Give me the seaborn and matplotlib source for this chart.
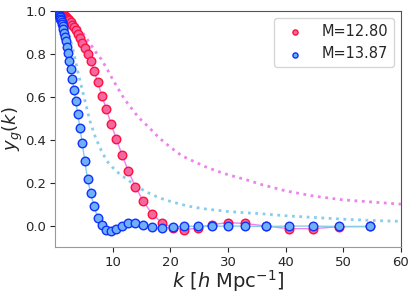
import matplotlib
matplotlib.use("Agg")
import matplotlib.pyplot as plt
import seaborn as sns

# k grid shared by both halo-mass bins
k = [0.62, 0.68, 0.75, 0.83, 0.91, 1.00, 1.10, 1.20, 1.32, 1.44, 1.58, 1.73, 1.89,
     2.07, 2.27, 2.48, 2.72, 2.98, 3.26, 3.57, 3.91, 4.28, 4.69, 5.14, 5.63, 6.17,
     6.75, 7.39, 8.09, 8.85, 9.68, 10.6, 11.6, 12.7, 13.9, 15.3, 16.8, 18.5, 20.4,
     22.4, 24.7, 27.2, 30.0, 33.0, 36.6, 40.5, 44.7, 49.3, 54.7]

# M=12.80
y_low = [0.999, 0.998, 0.997, 0.996, 0.995, 0.993, 0.992, 0.990, 0.988, 0.985,
         0.982, 0.978, 0.974, 0.969, 0.963, 0.956, 0.947, 0.936, 0.924, 0.910,
         0.893, 0.875, 0.853, 0.828, 0.800, 0.765, 0.722, 0.668, 0.605, 0.545,
         0.475, 0.405, 0.330, 0.255, 0.182, 0.113, 0.055, 0.014, -0.010, -0.018,
         -0.012, 0.005, 0.014, 0.010, -0.002, -0.014, -0.014, -0.005, -0.004]

# M=13.87
y_high = [0.984, 0.980, 0.976, 0.971, 0.965, 0.958, 0.950, 0.940, 0.928, 0.915,
          0.898, 0.880, 0.858, 0.832, 0.802, 0.768, 0.728, 0.683, 0.634, 0.579,
          0.520, 0.456, 0.385, 0.300, 0.215, 0.150, 0.090, 0.036, 0.003, -0.018,
          -0.024, -0.014, 0.000, 0.010, 0.014, 0.005, -0.008, -0.012, -0.006,
          -0.003, -0.003, -0.003, -0.002, -0.002, -0.004, -0.002, -0.002, -0.004,
          -0.004]

# dotted reference curves
k_ref = [0, 1, 2, 3, 4, 5, 6, 7, 8, 9, 10, 11, 12, 13, 14, 15, 16, 18, 20, 22,
         24, 26, 28, 30, 33, 36, 40, 45, 50, 55, 60]
ref_low = [1.0, 0.995, 0.982, 0.96, 0.93, 0.89, 0.85, 0.81, 0.775, 0.73, 0.68,
           0.635, 0.59, 0.555, 0.52, 0.49, 0.465, 0.41, 0.365, 0.325, 0.30, 0.275,
           0.255, 0.237, 0.215, 0.19, 0.162, 0.137, 0.12, 0.11, 0.10]
ref_high = [1.0, 0.99, 0.93, 0.83, 0.71, 0.60, 0.49, 0.41, 0.35, 0.30, 0.27,
            0.245, 0.225, 0.205, 0.19, 0.17, 0.155, 0.13, 0.113, 0.098, 0.086,
            0.078, 0.072, 0.066, 0.06, 0.055, 0.046, 0.038, 0.03, 0.024, 0.02]

sns.set_style("ticks")
fig, ax = plt.subplots(figsize=(4.15, 2.97), dpi=100)

sns.lineplot(x=k_ref, y=ref_low, color="violet", linestyle=":", linewidth=2, ax=ax)
sns.lineplot(x=k_ref, y=ref_high, color="skyblue", linestyle=":", linewidth=2, ax=ax)
sns.lineplot(x=k, y=y_low, color="violet", linewidth=1, ax=ax)
sns.lineplot(x=k, y=y_high, color="skyblue", linewidth=1, ax=ax)
sns.scatterplot(x=k, y=y_low, color="#f3689e", edgecolor="#ff1040", linewidth=1,
                s=38, label="M=12.80", ax=ax, zorder=3)
sns.scatterplot(x=k, y=y_high, color="#70b0f5", edgecolor="#1030ff", linewidth=1,
                s=38, label="M=13.87", ax=ax, zorder=3)

ax.set_xlim(0, 60)
ax.set_ylim(-0.1, 1.0)
ax.set_xticks([10, 20, 30, 40, 50, 60])
ax.set_yticks([0.0, 0.2, 0.4, 0.6, 0.8, 1.0])
ax.tick_params(labelsize=9.5, pad=3)
ax.set_xlabel(r"$k$ [$h$ Mpc$^{-1}$]", fontsize=14)
ax.set_ylabel(r"$y_g(k)$", fontsize=13)
ax.xaxis.set_label_coords(0.5, -0.09)
ax.yaxis.set_label_coords(-0.088, 0.5)

for side in ["left", "bottom"]:
    ax.spines[side].set_color("#999999")
for side in ["top", "right"]:
    ax.spines[side].set_visible(True)
    ax.spines[side].set_color("#555555")

ax.legend(loc="upper right", fontsize=10.5, markerscale=0.6)

plt.subplots_adjust(left=0.133, right=0.966, top=0.963, bottom=0.168)
plt.savefig("out.png", dpi=100)
